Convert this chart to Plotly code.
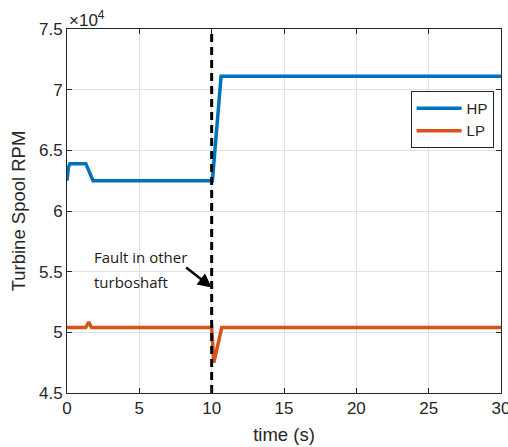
import plotly.graph_objects as go

# HP spool speed (x 10^4 RPM)
hp_t = [0, 0.1, 0.2, 1.3, 1.8, 10.0, 10.05, 10.65, 30]
hp_rpm = [6.25, 6.36, 6.39, 6.39, 6.25, 6.25, 6.25, 7.11, 7.11]

# LP spool speed (x 10^4 RPM)
lp_t = [0, 0.05, 1.3, 1.5, 1.7, 10.0, 10.15, 10.7, 30]
lp_rpm = [5.03, 5.04, 5.04, 5.085, 5.04, 5.04, 4.75, 5.04, 5.04]

fault_time = 10
x_ticks = [0, 5, 10, 15, 20, 25, 30]
y_ticks = [4.5, 5, 5.5, 6, 6.5, 7, 7.5]
y_tick_text = ["4.5", "5", "5.5", "6", "6.5", "7", "7.5"]
note_lines = ["Fault in other", "turboshaft"]

axis_col = "#262626"
font_main = "Liberation Sans"

fig = go.Figure()
fig.add_trace(go.Scatter(x=hp_t, y=hp_rpm, mode="lines", name="HP",
                         line=dict(color="#0072BD", width=3.5)))
fig.add_trace(go.Scatter(x=lp_t, y=lp_rpm, mode="lines", name="LP",
                         line=dict(color="#D95319", width=3.5)))
fig.add_trace(go.Scatter(x=[fault_time, fault_time], y=[4.5, 7.5], mode="lines",
                         showlegend=False, line=dict(color="black", width=3, dash="8px,5px")))

fig.update_layout(
    width=508, height=447,
    margin=dict(l=67, r=7, t=29, b=54),
    plot_bgcolor="white", paper_bgcolor="white",
    font=dict(family=font_main, size=17, color=axis_col),
    legend=dict(x=0.983, y=0.83, xanchor="right", yanchor="top",
                bgcolor="white", bordercolor=axis_col, borderwidth=1,
                font=dict(size=15), tracegroupgap=0, itemwidth=45),
    xaxis=dict(range=[0, 30], tickvals=x_ticks, ticks="inside", ticklen=5,
               tickcolor=axis_col, showline=True, linecolor=axis_col, linewidth=1,
               mirror="ticks", showgrid=True, gridcolor="#e0e0e0", zeroline=False,
               automargin=False, ticklabeloverflow="allow",
               title=dict(text="time (s)", standoff=10, font=dict(size=18.5)),
               tickfont=dict(size=17)),
    yaxis=dict(range=[4.5, 7.5], tickvals=y_ticks, ticktext=y_tick_text, ticks="inside",
               ticklen=5, tickcolor=axis_col, showline=True, linecolor=axis_col, linewidth=1,
               mirror="ticks", showgrid=True, gridcolor="#e0e0e0", zeroline=False,
               automargin=False, ticklabeloverflow="allow",
               title=dict(text="Turbine Spool RPM", standoff=8, font=dict(size=18.5)),
               tickfont=dict(size=17)),
)

fig.add_annotation(xref="paper", yref="paper", x=0.0, y=1.0, xanchor="left", yanchor="bottom",
                   text="×10<sup>4</sup>", showarrow=False, font=dict(size=17, color=axis_col),
                   yshift=-3)
for txt, yv in zip(note_lines, [5.62, 5.415]):
    fig.add_annotation(x=1.74, y=yv, xanchor="left", yanchor="middle", align="left",
                       text=txt, showarrow=False,
                       font=dict(family="Open Sans", size=15, color="#1a1a1a"))
fig.add_annotation(x=fault_time, y=5.37, text="", showarrow=True, ax=-27, ay=-21,
                   arrowhead=2, arrowsize=1.1, arrowwidth=2.5, arrowcolor="black")

fig.write_html("out.html", config={"displayModeBar": False},
               post_script="document.body.style.margin='0';")
